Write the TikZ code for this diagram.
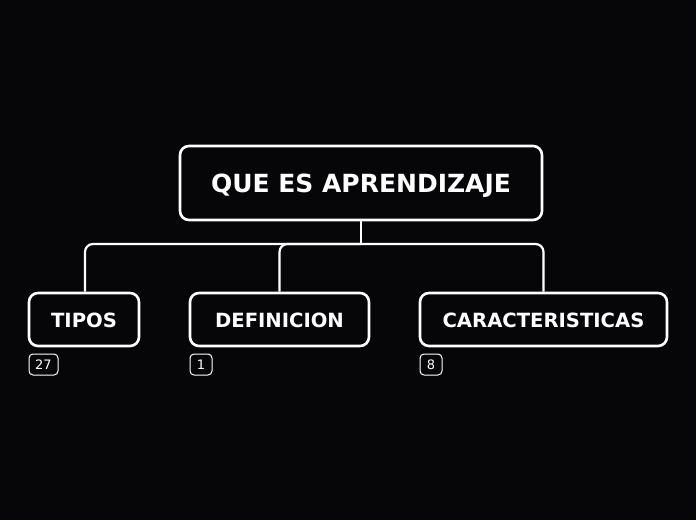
\documentclass[tikz,border=0pt]{standalone}
\usepackage{fontspec}
\setmainfont{DejaVu Sans}
\definecolor{bg}{RGB}{6,6,9}
\begin{document}
\begin{tikzpicture}[x=1pt,y=-1pt,
  bx/.style={draw=white,line width=2.6pt,rounded corners=9pt,fill=bg,text=white,font=\bfseries,inner sep=0pt},
  badge/.style={draw=white,line width=1pt,rounded corners=4pt,text=white,font=\fontsize{13}{15}\selectfont,inner sep=0pt,minimum height=21pt},
  conn/.style={draw=white,line width=2.2pt,rounded corners=8pt},
  mainlbl/.style={text=white,font=\bfseries\fontsize{25}{30}\selectfont,yshift=-3pt},
  sublbl/.style={text=white,font=\bfseries\fontsize{19.6}{23}\selectfont,yshift=-1pt}]
\fill[bg] (0,0) rectangle (696,520);
\useasboundingbox (0,0) rectangle (696,520);
\node[bx,minimum width=362pt,minimum height=74pt,label={[mainlbl]center:QUE ES APRENDIZAJE}] (m) at (361,183) {};
\node[bx,minimum width=110pt,minimum height=53pt,label={[sublbl]center:TIPOS}] (t) at (84,319.5) {};
\node[bx,minimum width=179pt,minimum height=53pt,label={[sublbl]center:DEFINICION}] (d) at (279.5,319.5) {};
\node[bx,minimum width=247pt,minimum height=53pt,label={[sublbl]center:CARACTERISTICAS}] (c) at (543.5,319.5) {};
\coordinate (j) at (361,244);
\draw[conn] (m.south) -- (j);
\draw[conn] (j) -| (t.north -| 85,0);
\draw[conn] (j) -| (d.north);
\draw[conn] (j) -| (c.north);
\node[badge,minimum width=29pt] (b1) at (43.5,364.5) {27};
\node[badge,minimum width=22pt] (b2) at (201,364.5) {1};
\node[badge,minimum width=22pt] (b3) at (431,364.5) {8};
\end{tikzpicture}
\end{document}
